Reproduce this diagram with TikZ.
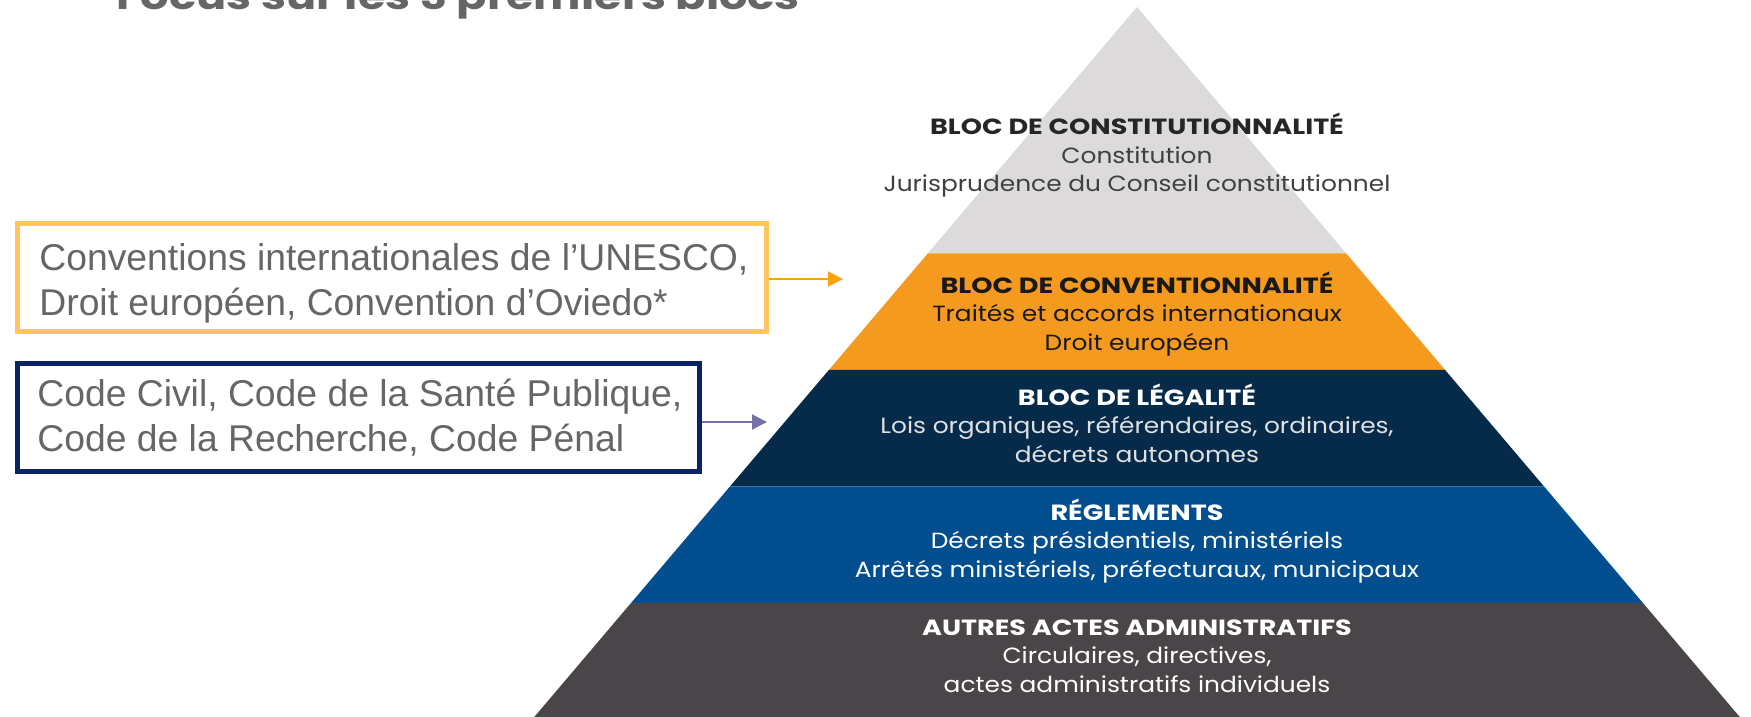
\documentclass[tikz,border=0pt]{standalone}
\usepackage{fontspec}
\setmainfont{Liberation Sans}
\newfontfamily\pyrfont[FakeStretch=1.13]{Poppins}
\newfontfamily\pyrtitle[FakeStretch=1.23]{Poppins}
\usetikzlibrary{arrows.meta,calc}

\definecolor{bandgray}{HTML}{DCDADA}
\definecolor{bandorange}{HTML}{F39A1F}
\definecolor{bandnavy}{HTML}{062A4A}
\definecolor{bandblue}{HTML}{034E8E}
\definecolor{banddark}{HTML}{4A4549}
\definecolor{boxorange}{HTML}{FFC55E}
\definecolor{boxnavy}{HTML}{0A2463}
\definecolor{arrorange}{HTML}{FFA10A}
\definecolor{arrviolet}{HTML}{7672A6}
\definecolor{txtgray}{HTML}{666666}

\tikzset{
	srcbox/.style={draw, line width=2.5pt, minimum height=54pt, inner sep=0pt},
	srctext/.style={anchor=base west, align=left, text=txtgray, inner sep=0pt,
		font=\fontsize{18.65}{22.5}\selectfont},
	bloc/.style={anchor=base, align=center, inner sep=0pt,
		font=\pyrfont\fontsize{11}{14.25}\selectfont},
	lien/.style={-{Triangle[length=7.5pt,width=7.5pt]}, line width=1pt},
}
\newcommand{\bloctitre}[1]{{\pyrtitle\bfseries #1}}

\begin{document}
\begin{tikzpicture}[x=0.5pt,y=-0.5pt]
	\useasboundingbox (0,0) rectangle (1751,717);

	% titre (coupe en haut)
	\node[anchor=base west, inner sep=0pt, text=txtgray,
		font=\pyrtitle\bfseries\fontsize{18.2}{22}\selectfont] (titre) at (116,10) {Focus sur les 3 premiers blocs};

	% pyramide
	\coordinate (sommet) at (1137,7);
	\coordinate (bg) at (531.7,720);
	\coordinate (bd) at (1742.3,720);
	\foreach \ta/\tb/\col in {0/0.3457/bandgray, 0.3457/0.5091/bandorange,
		0.5091/0.6725/bandnavy, 0.6725/0.8359/bandblue, 0.8359/1/banddark}
		\fill[\col] ($(sommet)!\ta!(bg)$) -- ($(sommet)!\tb!(bg)$)
			-- ($(sommet)!\tb!(bd)$) -- ($(sommet)!\ta!(bd)$) -- cycle;

	% le point de base d'un noeud a plusieurs lignes est sur la derniere ligne
	\node[bloc, text=black!85] (constit) at (1137,191.5)
		{\bloctitre{BLOC DE CONSTITUTIONNALITÉ}\\\color{black!75}Constitution\\\color{black!75}Jurisprudence du Conseil constitutionnel};
	\node[bloc, text=black!90] (conv) at (1137,350)
		{\bloctitre{BLOC DE CONVENTIONNALITÉ}\\Traités et accords internationaux\\Droit européen};
	\node[bloc, text=white] (legal) at (1137,462)
		{\bloctitre{BLOC DE LÉGALITÉ}\\\color{white!88!black}Lois organiques, référendaires, ordinaires,\\\color{white!88!black}décrets autonomes};
	\node[bloc, text=white] (regl) at (1137,577)
		{\bloctitre{RÉGLEMENTS}\\Décrets présidentiels, ministériels\\Arrêtés ministériels, préfecturaux, municipaux};
	\node[bloc, text=white] (autres) at (1137,692)
		{\bloctitre{AUTRES ACTES ADMINISTRATIFS}\\Circulaires, directives,\\actes administratifs individuels};

	% encadres de gauche
	\node[srcbox, draw=boxorange, minimum width=374.5pt] (unesco) at (392,277.5) {};
	\node[srctext] (unescotxt) at (39,315) {Conventions internationales de l’UNESCO,\\Droit européen, Convention d’Oviedo*};
	\node[srcbox, draw=boxnavy, minimum width=341pt] (codes) at (358.5,417.4) {};
	\node[srctext] (codestxt) at (37,451.7) {Code Civil, Code de la Santé Publique,\\Code de la Recherche, Code Pénal};

	% fleches
	\coordinate (versconv) at (843,279);
	\coordinate (verslegal) at (767,422);
	\draw[lien, arrorange] (unesco.east |- versconv) -- (versconv);
	\draw[lien, arrviolet] (codes.east |- verslegal) -- (verslegal);
\end{tikzpicture}
\end{document}
